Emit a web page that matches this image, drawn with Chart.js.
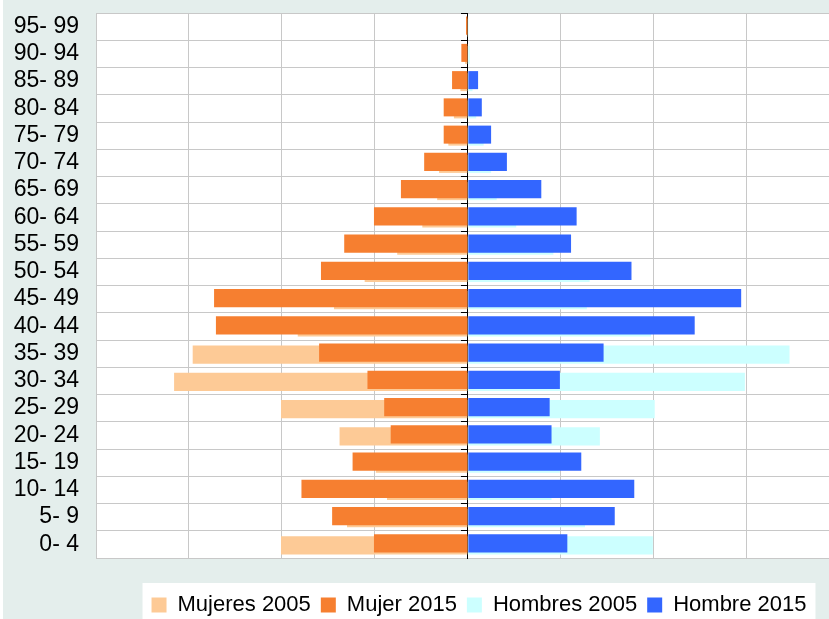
<!DOCTYPE html>
<html lang="es">
<head>
<meta charset="utf-8">
<title>Pirámide de población 2005 - 2015</title>
<script src="https://cdn.jsdelivr.net/npm/chart.js@4.4.1/dist/chart.umd.min.js"></script>
<style>
    html, body { margin: 0; padding: 0; background: #ffffff; overflow: hidden; }
    #marco {
        position: absolute; left: 3px; top: 0;
        width: 826px; height: 619px;
        background: #e4eeec; overflow: hidden;
    }
    #piramide { display: block; }
</style>
</head>
<body>
<div id="marco">
    <canvas id="piramide" width="952" height="626"></canvas>
</div>
<script>
// Grupos de edad (de abajo hacia arriba)
const edades = ['0- 4', '5- 9', '10- 14', '15- 19', '20- 24', '25- 29', '30- 34', '35- 39', '40- 44', '45- 49',
    '50- 54', '55- 59', '60- 64', '65- 69', '70- 74', '75- 79', '80- 84', '85- 89', '90- 94', '95- 99'];

// Valores (mujeres se dibujan hacia la izquierda)
const mujeres2005 = [201, 130, 87, 99, 138, 201, 316, 296, 183, 144, 111, 76, 49, 33, 31, 21, 15, 8, 3, 1];
const mujer2015 = [101, 146, 179, 124, 83, 90, 108, 160, 271, 273, 158, 133, 101, 72, 47, 26, 26, 17, 7, 2];
const hombres2005 = [199, 126, 90, 99, 142, 201, 298, 346, 197, 128, 131, 92, 52, 31, 25, 17, 9, 5, 2, 1];
const hombre2015 = [107, 158, 179, 122, 90, 88, 99, 146, 244, 294, 176, 111, 117, 79, 42, 25, 15, 11, 0, 0];

const fuente = "'Liberation Sans', Arial, sans-serif";

// Fondo blanco del área del gráfico y de la leyenda
const fondos = {
    id: 'fondos',
    beforeDraw(chart) {
        const c = chart.ctx;
        const a = chart.chartArea;
        c.save();
        c.fillStyle = '#ffffff';
        c.fillRect(a.left, a.top, a.right - a.left, a.bottom - a.top);
        const cajas = chart.legend.legendHitBoxes;
        if (cajas && cajas.length) {
            const ini = cajas[0];
            const fin = cajas[cajas.length - 1];
            c.fillRect(ini.left - 9, chart.legend.top - 1, fin.left + fin.width - ini.left + 18, 60);
        }
        c.restore();
    }
};

const ctx = document.getElementById('piramide').getContext('2d');
const grafico = new Chart(ctx, {
    type: 'bar',
    data: {
        labels: edades,
        datasets: [
            {
                label: 'Mujeres 2005',
                data: mujeres2005.map(v => -v),
                backgroundColor: '#fdca96',
                stack: 'a2005',
                order: 1
            },
            {
                label: 'Mujer 2015',
                data: mujer2015.map(v => -v),
                backgroundColor: '#f67f30',
                stack: 'a2015',
                order: 0
            },
            {
                label: 'Hombres 2005',
                data: hombres2005,
                backgroundColor: '#ccffff',
                stack: 'a2005',
                order: 1
            },
            {
                label: 'Hombre 2015',
                data: hombre2015,
                backgroundColor: '#3366ff',
                stack: 'a2015',
                order: 0
            }
        ]
    },
    options: {
        indexAxis: 'y',
        responsive: false,
        animation: false,
        maintainAspectRatio: false,
        layout: { padding: { top: 13, left: 0, right: 0, bottom: 0 } },
        datasets: {
            bar: {
                // 2015 y 2005 casi superpuestas, 2005 un poco más abajo
                categoryPercentage: 0.147,
                barPercentage: 9,
                borderWidth: 0
            }
        },
        scales: {
            x: {
                type: 'linear',
                stacked: true,
                min: -400,
                max: 524,
                ticks: { display: false, stepSize: 100 },
                grid: { color: '#c8c8c8', lineWidth: 1, drawTicks: true, tickLength: 26, tickColor: 'rgba(0,0,0,0)' },
                border: { color: '#c8c8c8' }
            },
            y: {
                reverse: true,
                ticks: {
                    color: '#000000',
                    padding: 17,
                    autoSkip: false,
                    font: { family: fuente, size: 23 }
                },
                grid: { color: '#c8c8c8', drawTicks: false },
                border: { color: '#c8c8c8' },
                afterFit(scale) {
                    scale.width = 93;
                    scale.paddingTop = 0;
                    scale.paddingBottom = 0;
                }
            },
            eje: {
                type: 'category',
                axis: 'y',
                position: { x: 0 },
                reverse: true,
                offset: true,
                ticks: { display: false },
                grid: { offset: true, drawOnChartArea: false, drawTicks: true, tickLength: 6, tickColor: '#000000' },
                border: { color: '#000000', width: 1 }
            }
        },
        plugins: {
            legend: {
                position: 'bottom',
                labels: {
                    boxWidth: 15,
                    boxHeight: 15,
                    padding: 10,
                    color: '#000000',
                    font: { family: fuente, size: 22 },
                    sort: (a, b) => a.datasetIndex - b.datasetIndex
                }
            },
            tooltip: { enabled: false }
        }
    },
    plugins: [fondos]
});
</script>
</body>
</html>
